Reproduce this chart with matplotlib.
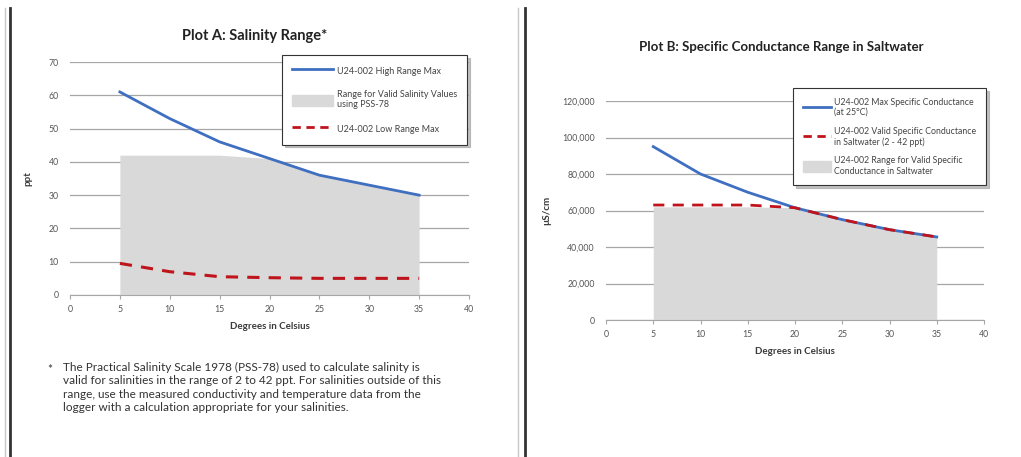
import numpy as np
import matplotlib
matplotlib.use('Agg')
import matplotlib.pyplot as plt
from matplotlib.ticker import FuncFormatter
from matplotlib.lines import Line2D

plt.rcParams['font.family'] = ['Lato', 'DejaVu Sans']

# temperatures (deg C)
temps = [5, 10, 15, 20, 25, 30, 35]

# Plot A - salinity (ppt)
high_range_max = [61, 53, 46, 41, 36, 33, 30]
valid_salinity_top = [42, 42, 42, 41, 36, 33, 30]
low_range_max = [9.5, 7, 5.5, 5.2, 5.0, 5.0, 5.0]

# Plot B - specific conductance (uS/cm)
max_spec_cond = [95000, 80000, 70000, 61500, 55000, 49500, 45500]
valid_spec_cond = [63000, 63000, 63000, 61500, 55000, 49500, 45500]
valid_range_top = [62000, 62000, 62000, 61500, 55000, 49500, 45500]

footnote = ("The Practical Salinity Scale 1978 (PSS-78) used to calculate salinity is\n"
            "valid for salinities in the range of 2 to 42 ppt. For salinities outside of this\n"
            "range, use the measured conductivity and temperature data from the\n"
            "logger with a calculation appropriate for your salinities.")

W, H = 1021, 457
fig = plt.figure(figsize=(W / 100, H / 100), dpi=100)

blue = '#3f6fc0'
red = '#c0141c'
fill_col = '#d9d9d9'
grid_col = '#a6a6a6'
txt_col = '#3a3a3a'


def px_axes(l, t, r, b):
    return fig.add_axes([l / W, 1 - b / H, (r - l) / W, (b - t) / H])


def style(ax):
    for s in ['top', 'right', 'left']:
        ax.spines[s].set_visible(False)
    ax.spines['bottom'].set_color(grid_col)
    ax.yaxis.grid(True, color=grid_col, linewidth=0.9)
    ax.set_axisbelow(True)
    ax.tick_params(axis='y', length=0, labelsize=6.3, colors='#555555', pad=8)
    ax.tick_params(axis='x', length=3, color=grid_col, labelsize=6.3, colors='#555555', pad=4)
    ax.set_xlim(0, 40)
    ax.set_xticks(range(0, 41, 5))


def style_legend(leg):
    leg.get_frame().set_edgecolor('#333333')
    leg.get_frame().set_linewidth(0.8)
    for t in leg.get_texts():
        t.set_color('#444444')


shadow = {'color': '#9a9a9a', 'alpha': 0.6, 'ox': 2, 'oy': -2}

# ---- Plot A ----
axA = px_axes(70, 62, 469, 295)
style(axA)
axA.fill_between(temps, 0, valid_salinity_top, color=fill_col, linewidth=0, zorder=1)
axA.plot(temps, high_range_max, color=blue, linewidth=2, zorder=3)
axA.plot(temps, low_range_max, color=red, linewidth=2.2, dashes=(4, 3), zorder=3)
axA.set_ylim(0, 70)
axA.set_yticks(range(0, 71, 10))
axA.set_xlabel('Degrees in Celsius', fontsize=7, fontweight='bold', color=txt_col, labelpad=6)
axA.set_ylabel('ppt', fontsize=7, fontweight='bold', color=txt_col, labelpad=12)
fig.text(255 / W, 1 - 36 / H, 'Plot A: Salinity Range*', fontsize=10.5, fontweight='bold',
         color='#222222', ha='center', va='center')

handlesA = [Line2D([0], [0], color=blue, linewidth=2),
            plt.Rectangle((0, 0), 1, 1, color=fill_col),
            Line2D([0], [0], color=red, linewidth=2, dashes=(3, 2))]
labelsA = ['U24-002 High Range Max',
           'Range for Valid Salinity Values\nusing PSS-78',
           'U24-002 Low Range Max']
legA = axA.legend(handlesA, labelsA, loc='upper left', bbox_to_anchor=(282 / W, 1 - 55 / H),
                  bbox_transform=fig.transFigure, fontsize=6.5, frameon=True, fancybox=False,
                  shadow=shadow, borderpad=1.1, labelspacing=1.5, handlelength=4.6,
                  handleheight=1.6, handletextpad=0.4, borderaxespad=0)
style_legend(legA)

# ---- Plot B ----
axB = px_axes(606, 101, 984, 320)
style(axB)
axB.fill_between(temps, 0, valid_range_top, color=fill_col, linewidth=0, zorder=1)
axB.plot(temps, max_spec_cond, color=blue, linewidth=2, zorder=3)
axB.plot(temps, valid_spec_cond, color=red, linewidth=2, dashes=(4, 3), zorder=4)
axB.set_ylim(0, 120000)
axB.set_yticks(range(0, 120001, 20000))
axB.yaxis.set_major_formatter(FuncFormatter(lambda v, p: f'{int(v):,}'))
axB.set_xlabel('Degrees in Celsius', fontsize=7, fontweight='bold', color=txt_col, labelpad=6)
axB.set_ylabel('µS/cm', fontsize=7, fontweight='bold', color=txt_col, labelpad=8)
fig.text(781 / W, 1 - 47 / H, 'Plot B: Specific Conductance Range in Saltwater', fontsize=9.5,
         fontweight='bold', color='#222222', ha='center', va='center')

handlesB = [Line2D([0], [0], color=blue, linewidth=2),
            Line2D([0], [0], color=red, linewidth=2, dashes=(3, 2)),
            plt.Rectangle((0, 0), 1, 1, color=fill_col)]
labelsB = ['U24-002 Max Specific Conductance\n(at 25°C)',
           'U24-002 Valid Specific Conductance\nin Saltwater (2 - 42 ppt)',
           'U24-002 Range for Valid Specific\nConductance in Saltwater']
legB = axB.legend(handlesB, labelsB, loc='upper left', bbox_to_anchor=(793 / W, 1 - 88 / H),
                  bbox_transform=fig.transFigure, fontsize=6.3, frameon=True, fancybox=False,
                  shadow=shadow, borderpad=1.1, labelspacing=1.1, handlelength=3.2,
                  handleheight=1.6, handletextpad=0.4, borderaxespad=0)
style_legend(legB)

# ---- footnote ----
fig.text(47 / W, 1 - 369 / H, '*', fontsize=8.5, color='#333333', ha='left', va='center')
fig.text(63 / W, 1 - 362 / H, footnote, fontsize=8.5, color='#333333', ha='left', va='top',
         linespacing=1.25)

# ---- page borders ----
for x, c, lw in [(5, '#c8c8c8', 1), (10, '#333333', 2), (518, '#c8c8c8', 1), (525, '#333333', 2)]:
    fig.add_artist(Line2D([x / W, x / W], [0, 1 - 8 / H], transform=fig.transFigure,
                          color=c, linewidth=lw))

fig.savefig('out.png', dpi=100)
